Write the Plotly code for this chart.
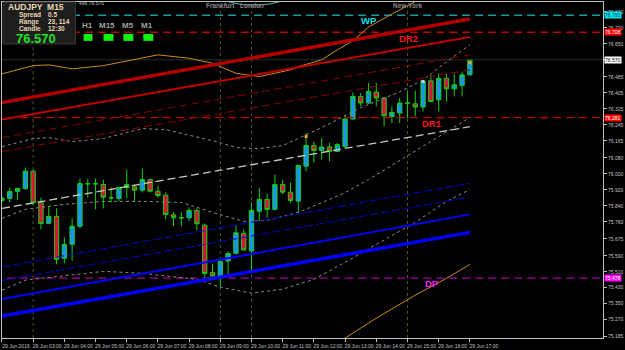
import plotly.graph_objects as go

# ---------------- data ----------------
bars = list(range(61))  # M15 bars 02:00 .. 17:00
opens = [75.867,75.877,75.911,75.926,76.013,75.857,75.752,75.787,75.577,75.647,
         75.738,75.950,75.950,75.946,75.880,75.877,75.931,75.935,75.918,75.971,
         75.913,75.893,75.795,75.780,75.780,75.817,75.743,75.506,75.489,75.564,
         75.602,75.702,75.614,75.813,75.872,75.822,75.946,75.908,75.863,76.038,
         76.141,76.117,76.134,76.112,76.137,76.274,76.387,76.354,76.409,76.379,
         76.287,76.304,76.354,76.350,76.334,76.465,76.370,76.478,76.425,76.442,
         76.495]
highs = [75.887,75.931,75.931,76.031,76.021,75.882,75.838,75.827,75.682,75.777,
         75.976,75.976,75.976,75.971,75.931,75.936,76.021,75.946,76.026,75.976,
         75.941,75.908,75.808,75.808,75.832,75.827,75.752,75.551,75.562,75.612,
         75.742,75.722,75.855,75.930,75.901,75.996,75.971,75.956,76.046,76.204,
         76.162,76.179,76.154,76.154,76.295,76.407,76.404,76.454,76.454,76.380,
         76.337,76.379,76.412,76.417,76.465,76.495,76.503,76.503,76.500,76.511,
         76.570]
lows = [75.857,75.857,75.868,75.921,75.847,75.722,75.747,75.547,75.552,75.564,
        75.727,75.882,75.822,75.827,75.857,75.863,75.877,75.863,75.906,75.906,
        75.882,75.772,75.738,75.738,75.763,75.717,75.473,75.482,75.436,75.489,
        75.597,75.617,75.522,75.763,75.780,75.817,75.896,75.855,75.805,76.013,
        76.055,76.071,76.063,76.111,76.129,76.271,76.337,76.350,76.337,76.237,
        76.254,76.254,76.279,76.287,76.312,76.360,76.312,76.362,76.387,76.387,
        76.490]
closes = [75.877,75.911,75.926,76.013,75.855,75.752,75.787,75.572,75.647,75.738,
          75.951,75.950,75.950,75.883,75.880,75.931,75.946,75.918,75.971,75.913,
          75.891,75.797,75.780,75.780,75.817,75.750,75.501,75.489,75.561,75.601,
          75.705,75.619,75.817,75.872,75.822,75.946,75.908,75.867,76.041,76.141,
          76.117,76.134,76.112,76.146,76.274,76.387,76.354,76.412,76.379,76.290,
          76.307,76.354,76.354,76.334,76.462,76.362,76.478,76.425,76.445,76.495,
          76.570]

tick_bars = [0, 4, 8, 12, 16, 20, 24, 28, 32, 36, 40, 44, 48, 52, 56, 60]
tick_text = ["29 Jun 2016", "29 Jun 03:00", "29 Jun 04:00", "29 Jun 05:00", "29 Jun 06:00",
             "29 Jun 07:00", "29 Jun 08:00", "29 Jun 09:00", "29 Jun 10:00", "29 Jun 11:00",
             "29 Jun 12:00", "29 Jun 13:00", "29 Jun 14:00", "29 Jun 15:00", "29 Jun 16:00",
             "29 Jun 17:00"]
price_ticks = [76.810, 76.730, 76.650, 76.570, 76.485, 76.405, 76.325, 76.245, 76.165, 76.080,
               76.000, 75.920, 75.840, 75.760, 75.675, 75.590, 75.510, 75.430, 75.350, 75.270, 75.185]

# regression channel lines (start bar 0, end bar 60)
chan_x = [0, 60]
red_thick = [76.356, 76.774]
red_mid = [76.272, 76.684]
red_dash1 = [76.181, 76.595]
red_dash2 = [76.111, 76.520]
center_line = [75.827, 76.236]
blue_dash1 = [75.534, 75.953]
blue_dash2 = [75.466, 75.884]
blue_mid = [75.373, 75.797]
blue_thick = [75.288, 75.707]

# bands
bb_up_x = [0, 4, 6, 9, 13, 18, 21, 25, 28, 30, 33, 36, 41, 46, 51, 54, 57, 60]
bb_up = [76.136, 76.176, 76.181, 76.161, 76.176, 76.226, 76.221, 76.186, 76.156, 76.131,
         76.126, 76.141, 76.231, 76.331, 76.410, 76.470, 76.560, 76.645]
bb_mid_x = [0, 3, 8, 13, 18, 23, 27, 31, 34, 38, 42, 44, 47, 54, 60]
bb_mid = [75.777, 75.822, 75.847, 75.862, 75.862, 75.857, 75.807, 75.762, 75.767, 75.807,
          75.872, 75.906, 75.971, 76.138, 76.281]
bb_lo_x = [0, 3, 13, 18, 25, 28, 32, 36, 40, 44, 48, 53, 57, 60]
bb_lo = [75.418, 75.468, 75.512, 75.502, 75.472, 75.433, 75.403, 75.423, 75.472, 75.557,
         75.647, 75.757, 75.862, 75.921]
env_up_x = [0, 4, 6, 9, 13, 17, 20, 24, 27, 30, 33, 37, 38, 41, 43, 45, 47, 50, 52, 53, 56]
env_up = [76.500, 76.541, 76.545, 76.525, 76.541, 76.573, 76.595, 76.578, 76.553, 76.503,
          76.486, 76.520, 76.536, 76.570, 76.620, 76.665, 76.734, 76.799, 76.839, 76.862, 76.939]
env_lo_x = [41, 44, 48, 53, 57, 60]
env_lo = [75.103, 75.178, 75.278, 75.393, 75.477, 75.547]
teal_x = [28, 29, 30.8, 32.5, 34.3, 35.6, 36.5]
teal_y = [76.875, 76.861, 76.846, 76.844, 76.849, 76.861, 76.875]

# signal marks
mark_bars = [39, 54, 60]
mark_prices = [76.186, 76.462, 76.556]
mark_colors = ["#f0a030", "#d0d0ff", "#f0a030"]

# levels
levels = {"WP": 76.793, "DR2": 76.708, "DR1": 76.281, "DP": 75.478}
last_price = 76.570
sessions = {"Frankfurt": 28, "London": 32, "New York": 52}
extra_vline = 4

fig = go.Figure()

def line(x, y, color, width=1, dash="solid"):
    fig.add_trace(go.Scatter(x=x, y=y, mode="lines", line=dict(color=color, width=width, dash=dash),
                             hoverinfo="skip", showlegend=False))

# horizontal level lines
line([-1, 78], [last_price]*2, "#2e2e2e", 1)
line([-1, 78], [levels["WP"]]*2, "#1a9a9a", 1.3, "8px,5px")
line([-1, 78], [levels["DR2"]]*2, "#c00000", 1.3, "8px,5px")
line([-1, 78], [levels["DR1"]]*2, "#c00000", 1.3, "8px,5px")
line([-1, 78], [levels["DP"]]*2, "#a000a0", 1.3, "8px,5px")

# bands
line(env_up_x, env_up, "#d08a1a", 1)
line(env_lo_x, env_lo, "#d08a1a", 1)
line(bb_up_x, bb_up, "#8a8a8a", 1, "dot")
line(bb_mid_x, bb_mid, "#8a8a8a", 1, "dot")
line(bb_lo_x, bb_lo, "#8a8a8a", 1, "dot")
line(teal_x, teal_y, "#5fb39a", 1)

# channel
line(chan_x, red_dash1, "#8b0000", 1, "8px,4px")
line(chan_x, red_dash2, "#8b0000", 1, "8px,4px")
line(chan_x, red_mid, "#c00000", 2)
line(chan_x, red_thick, "#b00000", 3.5)
line(chan_x, center_line, "#c8c8c8", 1.3, "8px,4px")
line(chan_x, blue_dash1, "#0000c8", 1, "8px,3px")
line(chan_x, blue_dash2, "#0000c8", 1, "8px,3px")
line(chan_x, blue_mid, "#0000ff", 2)
line(chan_x, blue_thick, "#0000ff", 3.5)

fig.add_trace(go.Candlestick(
    x=bars, open=opens, high=highs, low=lows, close=closes,
    increasing=dict(fillcolor="#1e90ff", line=dict(color="#10d010", width=1)),
    decreasing=dict(fillcolor="#dc143c", line=dict(color="#10d010", width=1)),
    whiskerwidth=0, showlegend=False, hoverinfo="skip"))

fig.add_trace(go.Scatter(x=mark_bars, y=mark_prices, mode="markers",
                         marker=dict(symbol="square", size=3, color=mark_colors),
                         hoverinfo="skip", showlegend=False))

shapes = []
for name, b in list(sessions.items()) + [("", extra_vline)]:
    shapes.append(dict(type="line", xref="x", yref="paper", x0=b, x1=b, y0=0, y1=1,
                       line=dict(color="#55552a", width=1, dash="dot"), layer="below"))
# info panel
shapes.append(dict(type="rect", xref="paper", yref="paper", x0=0.0017, x1=0.1225, y0=0.875, y1=1.0,
                   fillcolor="#1e1e1e", line=dict(color="#3a3a3a", width=1), layer="above"))
for b0, b1 in [(83, 92), (103, 113), (123, 133), (143, 153)]:
    shapes.append(dict(type="rect", xref="paper", yref="paper", x0=(b0-1)/604, x1=(b1-1)/604,
                       y0=1-(41-2)/337, y1=1-(34-2)/337, fillcolor="#10f010", line=dict(width=0),
                       layer="above"))

ann = []
def txt(x, y, s, color, size, bold=False, xref="x", yref="y", xanchor="center", **kw):
    ann.append(dict(x=x, y=y, xref=xref, yref=yref, text=("<b>%s</b>" % s) if bold else s,
                    showarrow=False, font=dict(color=color, size=size, family="Liberation Sans, Arial"),
                    xanchor=xanchor, yanchor="middle", borderpad=0, **kw))

def px(xp):
    return (xp - 1) / 604
def py(yp):
    return 1 - (yp - 2) / 337

txt(px(6), py(7), "AUDJPY  M15", "#e8d8b0", 8.5, True, "paper", "paper", "left")
txt(px(17), py(15), "Spread", "#e8d8b0", 6.5, True, "paper", "paper", "left")
txt(px(46), py(15), "0.5", "#e8d8b0", 6.5, True, "paper", "paper", "left")
txt(px(17), py(22), "Range", "#e8d8b0", 6.5, True, "paper", "paper", "left")
txt(px(46), py(22), "23, 114", "#e8d8b0", 6.5, True, "paper", "paper", "left")
txt(px(17), py(29), "Candle", "#e8d8b0", 6.5, True, "paper", "paper", "left")
txt(px(46), py(29), "12:30", "#e8d8b0", 6.5, True, "paper", "paper", "left")
txt(px(14), py(39), "76.570", "#22e022", 13, True, "paper", "paper", "left")
for s, xc in [("H1", 87), ("M15", 106.5), ("M5", 128), ("M1", 147)]:
    txt(px(xc), py(25.5), s, "#a0a0a0", 8, True, "paper", "paper")
txt(px(77), py(3.5), "496 76.570", "#c0c0c0", 5, False, "paper", "paper", "left")
for name, b in sessions.items():
    txt(b, py(6), name, "#8a8a8a", 6.5, True, "x", "paper")

txt(47.1, 76.769, "WP", "#00e0f0", 9.5, True)
txt(52.1, 76.679, "DR2", "#ff1010", 9.5, True)
txt(55.2, 76.251, "DR1", "#ff1010", 9.5, True)
txt(55.2, 75.450, "DP", "#ff20ff", 9.5, True)

# level price boxes on the axis
for val, bg, fg in [(levels["WP"], "#00e5ee", "#003040"), (levels["DR2"], "#ff0000", "#ffffff"),
                    (last_price, "#ffffff", "#000000"), (levels["DR1"], "#ff0000", "#ffffff"),
                    (levels["DP"], "#ff00ff", "#ffffff")]:
    ann.append(dict(x=1, xref="paper", y=val, yref="y", text="%.3f" % val, showarrow=False,
                    xanchor="left", yanchor="middle", xshift=1, bgcolor=bg, borderpad=0,
                    font=dict(color=fg, size=5, family="Liberation Sans, Arial")))

ytick_text = ["" if abs(v - last_price) < 1e-9 else "%.3f" % v for v in price_ticks]

fig.update_layout(
    width=625, height=350, margin=dict(l=1, r=20, t=2, b=11),
    paper_bgcolor="#000000", plot_bgcolor="#000000",
    showlegend=False, shapes=shapes, annotations=ann, boxgap=0.2,
    xaxis=dict(range=[0.0064, 77.07], tickvals=tick_bars, ticktext=tick_text, showgrid=False,
               zeroline=False, showline=True, mirror=True, linecolor="#c0c0c0", linewidth=1,
               ticks="outside", ticklen=3, tickcolor="#c0c0c0", ticklabelshift=14, tickangle=0,
               ticklabelstandoff=0,
               tickfont=dict(color="#c0c0c0", size=5, family="Liberation Sans, Arial"),
               rangeslider=dict(visible=False), fixedrange=True),
    yaxis=dict(range=[75.1786, 76.8594], side="right", tickvals=price_ticks,
               ticktext=ytick_text, showgrid=False, zeroline=False,
               showline=True, mirror=True, linecolor="#c0c0c0", linewidth=1,
               ticks="outside", ticklen=3, tickcolor="#c0c0c0",
               tickfont=dict(color="#c0c0c0", size=5, family="Liberation Sans, Arial")),
)

fig.write_html("out.html")
